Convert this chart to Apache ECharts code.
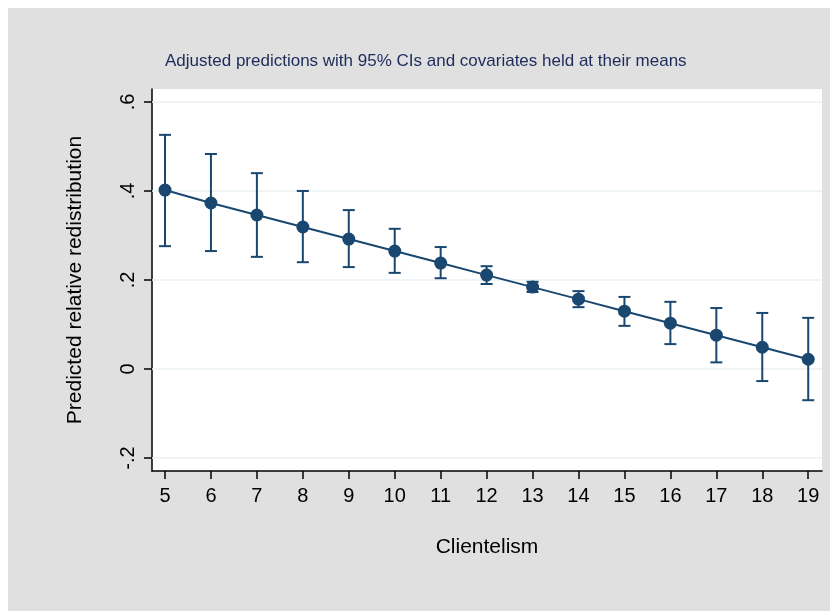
<!DOCTYPE html>
<html>
<head>
<meta charset="utf-8">
<script src="https://cdn.jsdelivr.net/npm/echarts@6/dist/echarts.min.js"></script>
<style>
  html, body { margin: 0; padding: 0; background: #fff; }
  #chart { width: 830px; height: 611px; }
</style>
</head>
<body>
<div id="chart"></div>
<script>
// clientelism values on x
var clientelism = [5, 6, 7, 8, 9, 10, 11, 12, 13, 14, 15, 16, 17, 18, 19];
// predicted relative redistribution (margins)
var predicted = [0.402, 0.373, 0.346, 0.319, 0.292, 0.265, 0.238, 0.211, 0.184, 0.157, 0.130, 0.103, 0.076, 0.049, 0.022];
// 95% confidence bounds
var ciLow = [0.276, 0.265, 0.252, 0.240, 0.229, 0.216, 0.204, 0.191, 0.173, 0.139, 0.097, 0.056, 0.015, -0.027, -0.070];
var ciHigh = [0.526, 0.483, 0.440, 0.400, 0.357, 0.315, 0.274, 0.231, 0.196, 0.175, 0.162, 0.151, 0.137, 0.126, 0.115];
// y tick values and labels
var yTicks = [-0.2, 0, 0.2, 0.4, 0.6];
var yTickLabels = { '-0.2': '-.2', '0': '0', '0.2': '.2', '0.4': '.4', '0.6': '.6' };

var navy = '#1a476f';

var lineData = [];
var barData = [];
for (var i = 0; i < clientelism.length; i++) {
    lineData.push([clientelism[i], predicted[i]]);
    barData.push([clientelism[i], ciLow[i], ciHigh[i]]);
}

var myChart = echarts.init(document.getElementById('chart'));

var option = {
    backgroundColor: '#fff',
    animation: false,
    textStyle: { fontFamily: 'Liberation Sans, Arial, sans-serif' },
    graphic: [{
        type: 'rect',
        z: -10,
        silent: true,
        shape: { x: 8, y: 8, width: 822, height: 603 },
        style: { fill: '#e0e0e0' }
    }],
    title: {
        text: 'Adjusted predictions with 95% CIs and covariates held at their means',
        left: 160,
        top: 48,
        textStyle: {
            color: '#1c2b5a',
            fontSize: 17,
            fontWeight: 'normal',
            fontFamily: 'Liberation Sans, Arial, sans-serif'
        }
    },
    grid: {
        left: 152,
        top: 89,
        right: 8,
        bottom: 140,
        show: true,
        backgroundColor: '#fff',
        borderWidth: 0
    },
    xAxis: {
        type: 'value',
        min: 4.717,
        max: 19.3,
        name: 'Clientelism',
        nameLocation: 'middle',
        nameGap: 66,
        nameTextStyle: { color: '#000', fontSize: 21 },
        axisLine: { show: true, onZero: false, lineStyle: { color: '#000', width: 1.5 } },
        axisTick: { show: true, customValues: clientelism, length: 8, lineStyle: { color: '#000', width: 1.5 } },
        axisLabel: { customValues: clientelism, color: '#000', fontSize: 20, margin: 15 },
        splitLine: { show: false }
    },
    yAxis: {
        type: 'value',
        min: -0.229,
        max: 0.629,
        name: 'Predicted relative redistribution',
        nameLocation: 'middle',
        nameGap: 66,
        nameTextStyle: { color: '#000', fontSize: 21 },
        axisLine: { show: true, onZero: false, lineStyle: { color: '#000', width: 1.5 } },
        axisTick: { show: true, customValues: yTicks, length: 8, lineStyle: { color: '#000', width: 1.5 } },
        axisLabel: {
            customValues: yTicks,
            rotate: 90,
            color: '#000',
            fontSize: 20,
            margin: 14,
            formatter: function (v) {
                var k = String(Math.round(v * 10) / 10);
                return yTickLabels[k] !== undefined ? yTickLabels[k] : k;
            }
        },
        splitLine: { show: false }
    },
    series: [
        {
            // grid lines at the y ticks
            type: 'line',
            data: [],
            silent: true,
            z: 1,
            markLine: {
                silent: true,
                z: 1,
                symbol: 'none',
                label: { show: false },
                lineStyle: { color: '#eaf2f3', width: 1.5, type: 'solid' },
                data: yTicks.map(function (t) { return { yAxis: t }; })
            }
        },
        {
            type: 'custom',
            data: barData,
            z: 3,
            renderItem: function (params, api) {
                var x = api.value(0);
                var lo = api.coord([x, api.value(1)]);
                var hi = api.coord([x, api.value(2)]);
                var half = 6;
                var style = { stroke: navy, lineWidth: 2, fill: null };
                return {
                    type: 'group',
                    children: [
                        { type: 'line', shape: { x1: lo[0], y1: lo[1], x2: hi[0], y2: hi[1] }, style: style },
                        { type: 'line', shape: { x1: hi[0] - half, y1: hi[1], x2: hi[0] + half, y2: hi[1] }, style: style },
                        { type: 'line', shape: { x1: lo[0] - half, y1: lo[1], x2: lo[0] + half, y2: lo[1] }, style: style }
                    ]
                };
            }
        },
        {
            type: 'line',
            data: lineData,
            z: 4,
            symbol: 'circle',
            symbolSize: 13,
            lineStyle: { color: navy, width: 2 },
            itemStyle: { color: navy }
        }
    ]
};

myChart.setOption(option);
</script>
</body>
</html>
